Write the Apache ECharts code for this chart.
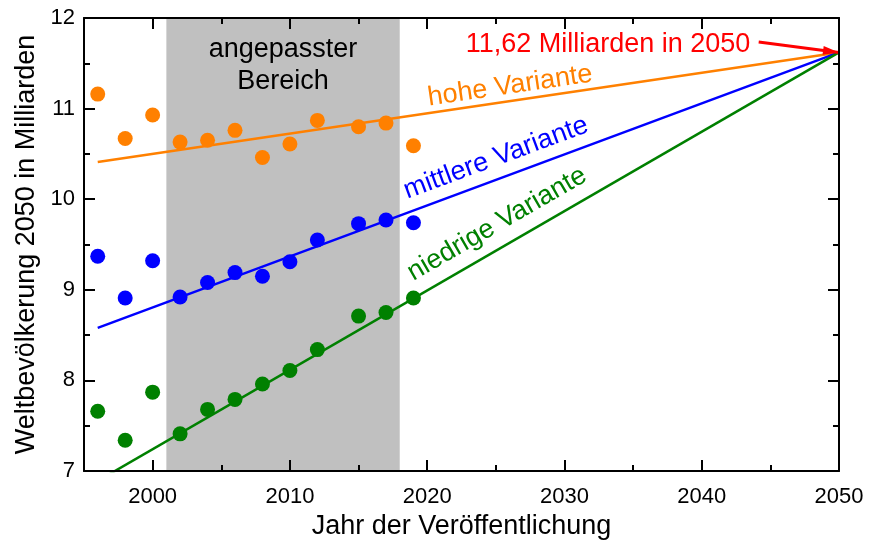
<!DOCTYPE html>
<html>
<head>
<meta charset="utf-8">
<script src="https://cdn.jsdelivr.net/npm/echarts@6/dist/echarts.min.js"></script>
<style>
  html, body { margin: 0; padding: 0; background: #fff; }
  #chart { width: 874px; height: 542px; }
</style>
</head>
<body>
<div id="chart"></div>
<script>
// Year of publication for each UN projection
const years = [1996, 1998, 2000, 2002, 2004, 2006, 2008, 2010, 2012, 2015, 2017, 2019];
// Projected world population in 2050 (billions) per variant
const highVariant = [11.16, 10.67, 10.93, 10.63, 10.65, 10.76, 10.46, 10.61, 10.87, 10.80, 10.84, 10.59];
const mediumVariant = [9.37, 8.91, 9.32, 8.92, 9.08, 9.19, 9.15, 9.31, 9.55, 9.73, 9.77, 9.74];
const lowVariant = [7.66, 7.34, 7.87, 7.41, 7.68, 7.79, 7.96, 8.11, 8.34, 8.71, 8.75, 8.91];

// Fitted trend lines: start year/value and common end point
const fitStartYear = 1996;
const fitEndYear = 2050;
const fitEndValue = 11.62;
const highFitStart = 10.41;
const mediumFitStart = 8.58;
const lowFitStart = 6.89;

// Fitted range (shaded)
const fitRange = [2001, 2018];

// Axis ticks
const xMajorTicks = [2000, 2010, 2020, 2030, 2040, 2050];
const xMinorTicks = [2005, 2015, 2025, 2035, 2045];
const arrowStart = [2044.15, 11.735];

const FONT = '"Liberation Sans", Arial, sans-serif';
const ORANGE = '#ff8000';
const BLUE = '#0000ff';
const GREEN = '#008000';
const RED = '#ff0000';

const chart = echarts.init(document.getElementById('chart'), null, { renderer: 'canvas' });

const axisLineStyle = { show: true, lineStyle: { color: '#000', width: 2 } };

function xAxisDef(position, ticks, len, withLine, withLabels) {
  return {
    type: 'value', position: position, min: 1995, max: 2050,
    z: 10,
    axisLine: withLine ? axisLineStyle : { show: false },
    axisTick: { show: true, inside: true, length: len, customValues: ticks, lineStyle: { color: '#000', width: 2 } },
    axisLabel: withLabels
      ? { show: true, customValues: ticks, color: '#000', fontSize: 22, fontFamily: FONT, margin: 15,
          formatter: v => String(v) }
      : { show: false },
    splitLine: { show: false }
  };
}

function yAxisDef(position, withLabels) {
  return {
    type: 'value', position: position, min: 7, max: 12, interval: 1,
    z: 10,
    axisLine: axisLineStyle,
    axisTick: { show: true, inside: true, length: 11, lineStyle: { color: '#000', width: 2 } },
    minorTick: { show: true, splitNumber: 2, length: 6, lineStyle: { color: '#000', width: 2 } },
    axisLabel: withLabels
      ? { show: true, color: '#000', fontSize: 22, fontFamily: FONT, margin: 9, formatter: v => String(v) }
      : { show: false },
    splitLine: { show: false }
  };
}

const xAxes = [
  xAxisDef('bottom', xMajorTicks, 11, true, true),
  xAxisDef('bottom', xMinorTicks, 6, false, false),
  xAxisDef('top', xMajorTicks, 11, true, false),
  xAxisDef('top', xMinorTicks, 6, false, false)
];
Object.assign(xAxes[0], {
  name: 'Jahr der Veröffentlichung', nameLocation: 'middle', nameGap: 37,
  nameTextStyle: { color: '#000', fontSize: 27, fontFamily: FONT }
});

const yAxes = [yAxisDef('left', true), yAxisDef('right', false)];
Object.assign(yAxes[0], {
  name: 'Weltbevölkerung 2050 in Milliarden', nameLocation: 'middle', nameGap: 43,
  nameTextStyle: { color: '#000', fontSize: 27, fontFamily: FONT }
});

function scatter(values, color) {
  return {
    type: 'scatter', xAxisIndex: 0, yAxisIndex: 0, z: 4,
    symbolSize: 15, itemStyle: { color: color, opacity: 1 },
    data: years.map((y, i) => [y, values[i]])
  };
}

function fitLine(startValue, color) {
  return {
    type: 'line', xAxisIndex: 0, yAxisIndex: 0, z: 3,
    symbol: 'none', clip: true,
    lineStyle: { color: color, width: 2.5 },
    data: [[fitStartYear, startValue], [fitEndYear, fitEndValue]]
  };
}

function text(str, x, y, color, deg) {
  return {
    type: 'text', x: x, y: y, z: 20, rotation: (deg || 0) * Math.PI / 180,
    style: { text: str, fill: color, font: '27px ' + FONT, textAlign: 'center', textVerticalAlign: 'middle' }
  };
}

const option = {
  animation: false,
  backgroundColor: '#fff',
  grid: { left: 84, right: 35, top: 18, bottom: 71, containLabel: false, outerBoundsMode: 'none' },
  xAxis: xAxes,
  yAxis: yAxes,
  series: [
    {
      // shaded fit range
      type: 'line', xAxisIndex: 0, yAxisIndex: 0, z: 1, data: [],
      markArea: {
        silent: true,
        itemStyle: { color: '#c0c0c0' },
        data: [[{ xAxis: fitRange[0] }, { xAxis: fitRange[1] }]]
      }
    },
    fitLine(highFitStart, ORANGE),
    fitLine(mediumFitStart, BLUE),
    fitLine(lowFitStart, GREEN),
    scatter(highVariant, ORANGE),
    scatter(mediumVariant, BLUE),
    scatter(lowVariant, GREEN),
    {
      // pointer to the common end point in 2050
      type: 'line', xAxisIndex: 0, yAxisIndex: 0, z: 6, data: [], clip: false,
      markLine: {
        silent: true, symbol: ['none', 'triangle'], symbolSize: 14,
        lineStyle: { color: RED, width: 3, type: 'solid' },
        itemStyle: { color: RED },
        label: { show: false },
        data: [[
          { coord: arrowStart, symbol: 'none' },
          { coord: [fitEndYear, fitEndValue], symbol: 'triangle', symbolSize: [9, 16], symbolOffset: [0, '50%'] }
        ]]
      }
    }
  ],
  graphic: [
    text('angepasster', 283, 50, '#000', 0),
    text('Bereich', 283, 82, '#000', 0),
    text('11,62 Milliarden in 2050', 608, 45, RED, 0),
    text('hohe Variante', 510, 86, ORANGE, 8.4),
    text('mittlere Variante', 496, 158, BLUE, 20.3),
    text('niedrige Variante', 497, 224, GREEN, 30)
  ]
};

chart.setOption(option);
</script>
</body>
</html>
